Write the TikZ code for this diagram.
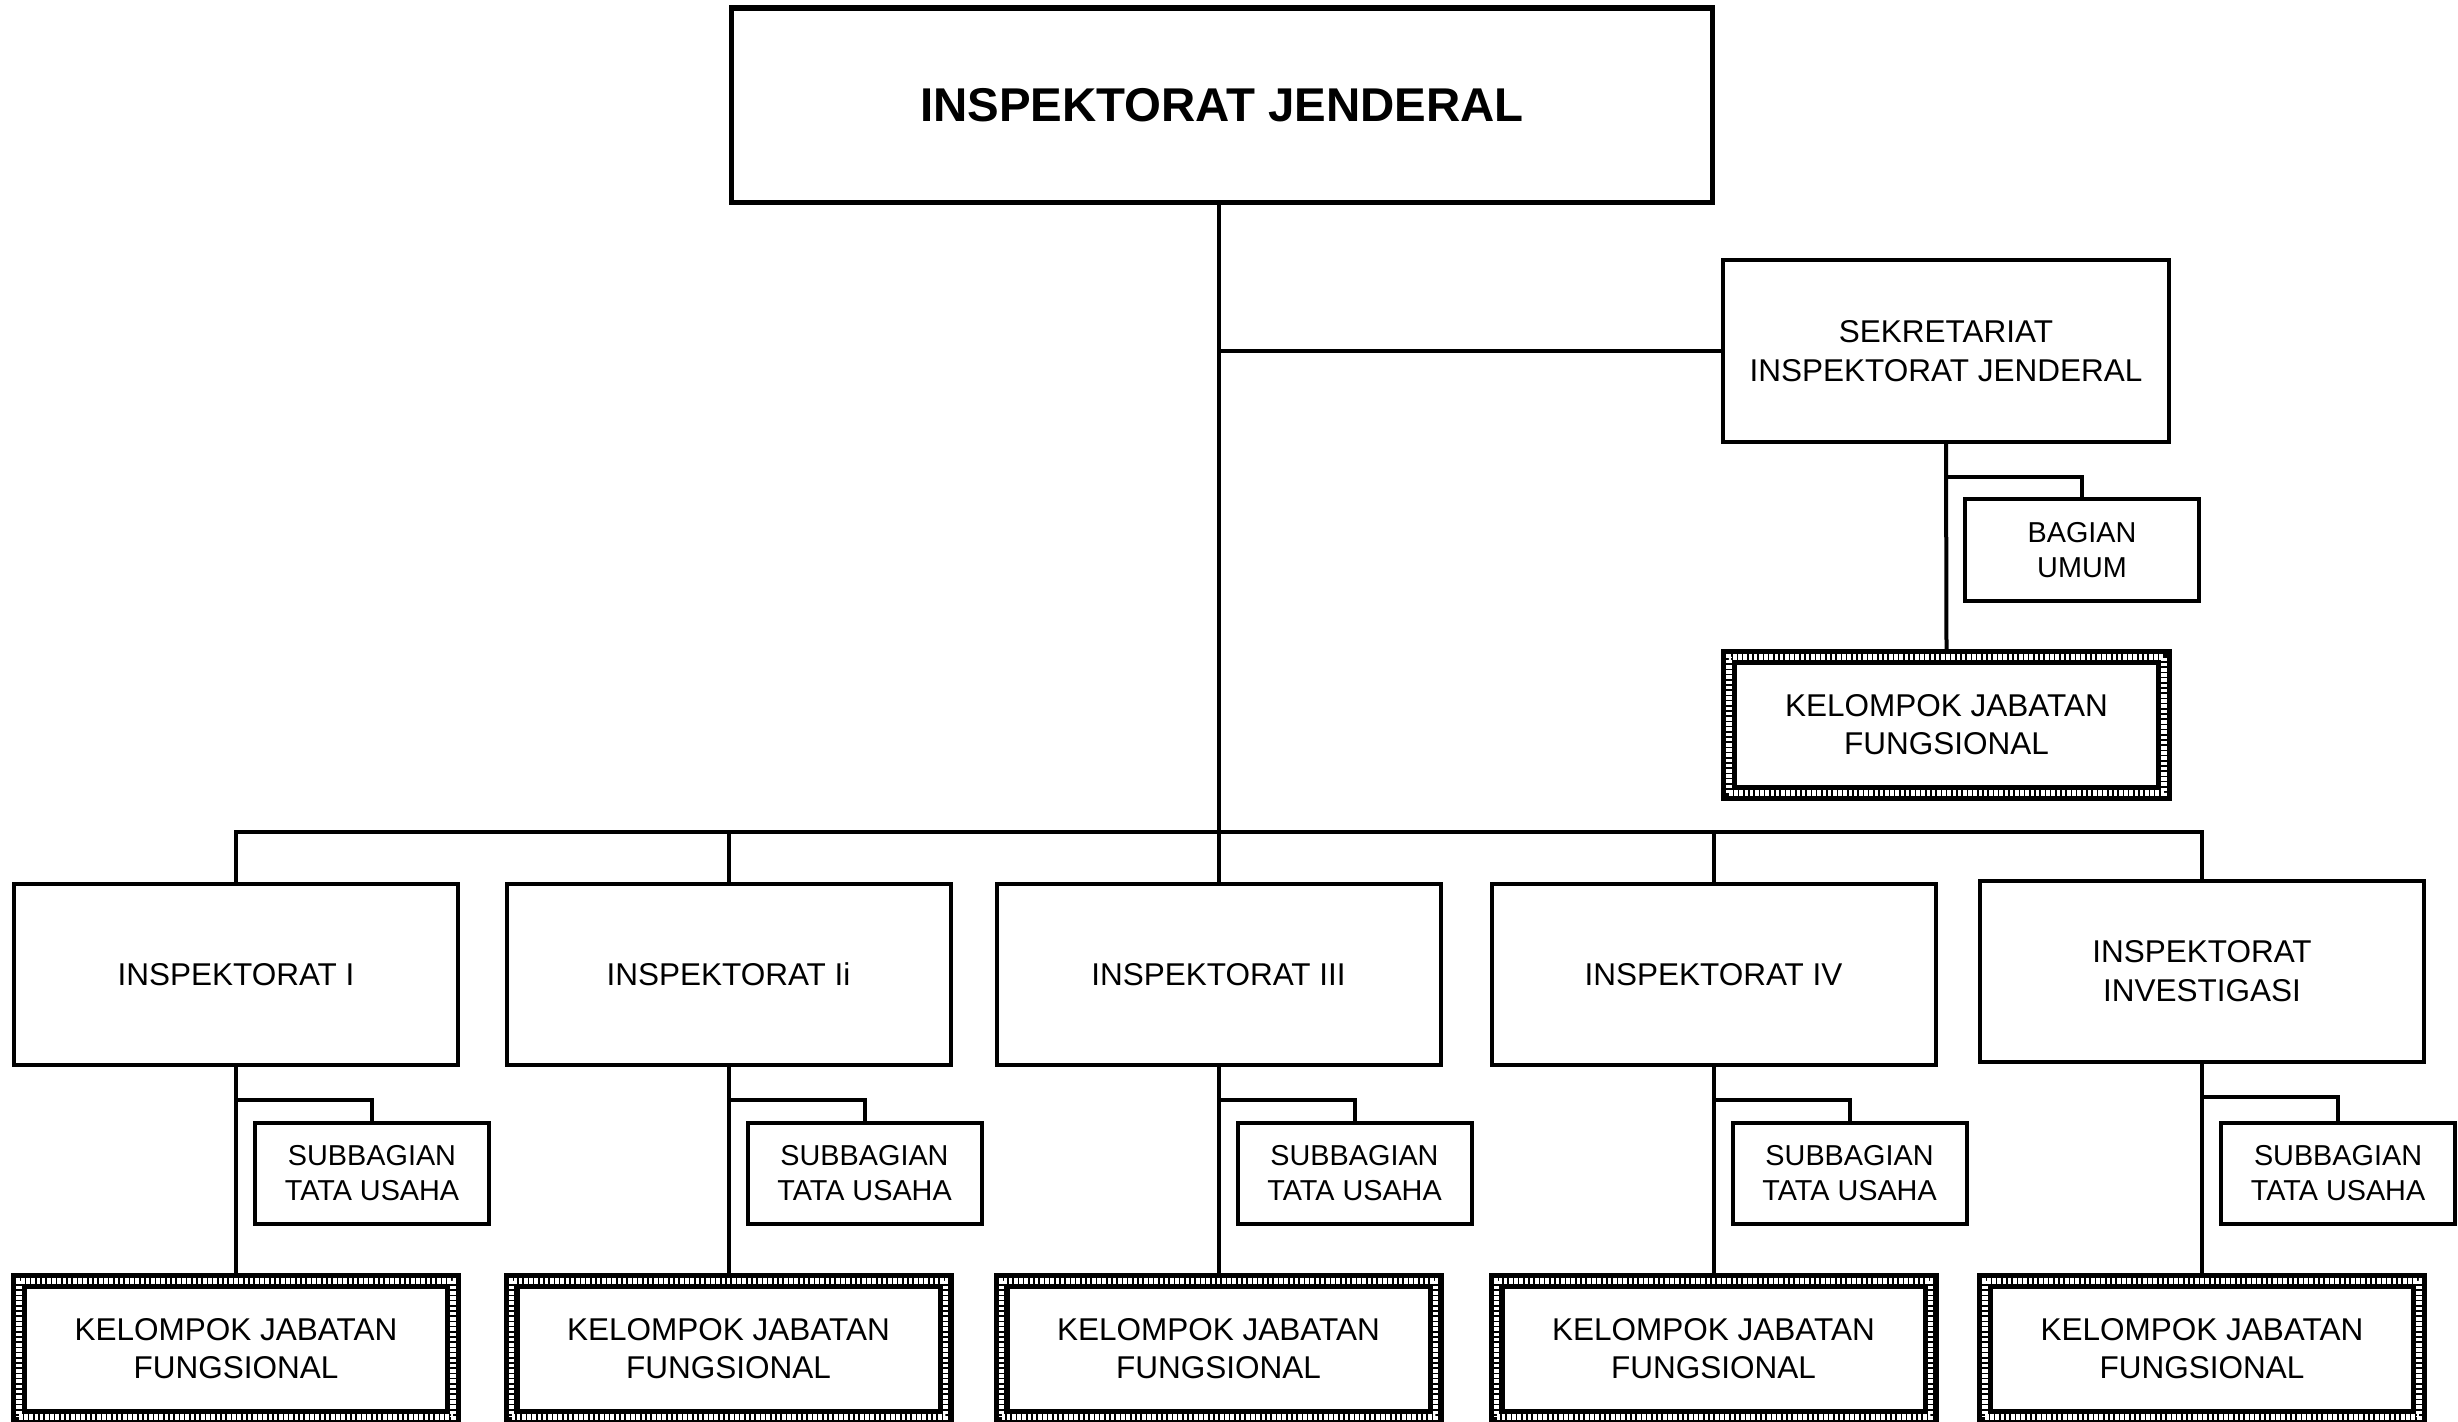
\documentclass[tikz,border=0pt]{standalone}
\usepackage{fontspec}
\setmainfont{Liberation Sans}
\usetikzlibrary{calc}
\begin{document}
\begin{tikzpicture}[x=0.5pt,y=-0.5pt,
  box/.style={draw, line width=2pt, inner sep=0pt, align=center, fill=white,
    font=\fontsize{15.75}{19.5}\selectfont},
  insbox/.style={box, minimum width=222pt, minimum height=90.5pt},
  subbox/.style={box, minimum width=117pt, minimum height=50.5pt,
    font=\fontsize{14.4}{17.5}\selectfont},
  kelbox/.style={draw, line width=8pt, inner sep=0pt, align=center, fill=white,
    minimum width=217pt, minimum height=68pt,
    font=\fontsize{15.75}{19}\selectfont,
    postaction={draw=white, line width=2.6pt, dash pattern=on 1.8pt off 0.8pt}},
  conn/.style={line width=2pt}]
\useasboundingbox (0,0) rectangle (2458,1421);
\clip (0,0) rectangle (2458,1421);

% top
\node[draw, line width=2.75pt, inner sep=0pt, minimum width=490.5pt, minimum height=97.25pt,
  font=\bfseries\fontsize{23.7}{28}\selectfont] (top) at (1222,105) {INSPEKTORAT JENDERAL};

% secretariat branch
\node[box, minimum width=223pt, minimum height=91pt] (sek) at (1946,351) {SEKRETARIAT\\INSPEKTORAT JENDERAL};
\node[subbox, minimum height=51pt] (bag) at (2082,550) {BAGIAN\\UMUM};
\node[kelbox, minimum width=217.5pt] (ks) at (1946.5,725) {KELOMPOK JABATAN\\FUNGSIONAL};

\coordinate (bus) at (1218.5,832);

\foreach \n/\x/\y/\t in {1/236/974.5/{INSPEKTORAT I},
                         2/728.5/974.5/{INSPEKTORAT Ii},
                         3/1218.5/974.5/{INSPEKTORAT III},
                         4/1713.5/974.5/{INSPEKTORAT IV},
                         5/2202/971/{INSPEKTORAT\\INVESTIGASI}}{
  \node[insbox] (i\n) at (\x,\y) {\t};
  \node[subbox] (s\n) at (\x+136,1173) {SUBBAGIAN\\TATA USAHA};
  \node[kelbox] (k\n) at (\x,1349) {KELOMPOK JABATAN\\FUNGSIONAL};
  \draw[conn] (i\n.south) -- (k\n.north);
  \draw[conn] (s\n.north) |- ($(i\n.south)+(0,33)$);
}

% connectors
\draw[conn] (top.south -| i3.north) -- (i3.north);
\draw[conn] (sek.west) -- (sek.west -| i3.north);
\draw[conn] (i1.north) |- (bus) -| (i5.north);
\draw[conn] (i2.north) -- (i2.north |- bus);
\draw[conn] (i4.north) -- (i4.north |- bus);
\draw[conn] (sek.south) -- (ks.north);
\draw[conn] (bag.north) |- ($(sek.south)+(0,33)$);
\end{tikzpicture}
\end{document}
